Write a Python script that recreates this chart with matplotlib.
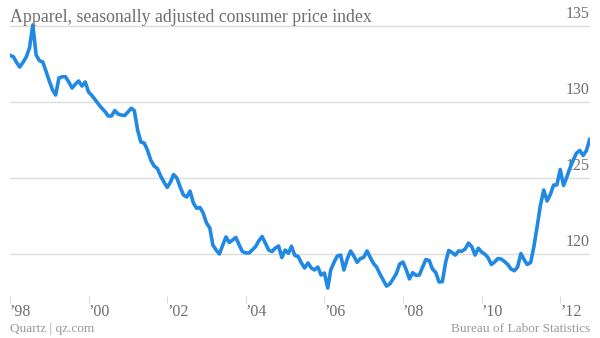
#!/usr/bin/env python3
"""Apparel CPI (seasonally adjusted), Quartz-style line chart."""
import matplotlib
matplotlib.use("Agg")
import matplotlib.pyplot as plt
import matplotlib.transforms as mtransforms
import pandas as pd

# monthly index values, Jan 1998 .. Oct 2012
cpi_1998 = [133.07, 132.98, 132.63, 132.30, 132.60, 132.96, 133.55, 135.07, 133.09, 132.72, 132.64, 132.04]
cpi_1999 = [131.38, 130.79, 130.46, 131.58, 131.66, 131.66, 131.32, 130.92, 131.18, 131.38, 131.05, 131.32]
cpi_2000 = [130.66, 130.43, 130.16, 129.87, 129.61, 129.38, 129.08, 129.08, 129.44, 129.21, 129.14, 129.11]
cpi_2001 = [129.34, 129.59, 129.44, 128.16, 127.37, 127.30, 126.84, 126.18, 125.79, 125.63, 125.13, 124.74]
cpi_2002 = [124.38, 124.74, 125.23, 125.00, 124.41, 123.88, 123.75, 124.14, 123.36, 123.01, 123.06, 122.70]
cpi_2003 = [122.04, 121.71, 120.59, 120.26, 120.00, 120.59, 121.12, 120.76, 120.92, 121.09, 120.59, 120.16]
cpi_2004 = [120.07, 120.07, 120.26, 120.49, 120.86, 121.15, 120.72, 120.26, 120.16, 120.39, 120.53, 119.77]
cpi_2005 = [120.26, 120.05, 120.51, 119.90, 119.84, 119.41, 119.08, 119.41, 119.08, 118.95, 119.14, 118.62]
cpi_2006 = [118.75, 117.76, 118.95, 119.47, 119.87, 119.93, 118.95, 119.67, 120.20, 119.87, 119.45, 119.70]
cpi_2007 = [119.78, 120.20, 119.80, 119.39, 119.14, 118.68, 118.29, 117.89, 118.03, 118.36, 118.72, 119.34]
cpi_2008 = [119.47, 118.95, 118.36, 118.77, 118.59, 118.62, 119.14, 119.64, 119.57, 119.01, 118.78, 118.16]
cpi_2009 = [118.18, 119.47, 120.23, 120.10, 119.93, 120.20, 120.18, 120.33, 120.72, 120.48, 119.93, 120.38]
cpi_2010 = [120.13, 119.98, 119.77, 119.31, 119.47, 119.70, 119.67, 119.51, 119.31, 119.01, 118.90, 119.14]
cpi_2011 = [120.03, 119.61, 119.31, 119.44, 120.46, 121.81, 123.19, 124.21, 123.49, 123.91, 124.54, 124.54]
cpi_2012 = [125.56, 124.51, 125.03, 125.66, 126.18, 126.64, 126.81, 126.48, 126.81, 127.53]

y_ticks = [120, 125, 130, 135]
x_tick_years = [1998, 2000, 2002, 2004, 2006, 2008, 2010, 2012]
x_tick_labels = ["\u201998", "\u201900", "\u201902", "\u201904", "\u201906", "\u201908", "\u201910", "\u201912"]

title = "Apparel, seasonally adjusted consumer price index"
source_left = "Quartz | qz.com"
source_right = "Bureau of Labor Statistics"

LINE = "#2189e3"
GRID = "#dcdcdc"
TEXT = "#6e6e6e"
FOOT = "#9a9a9a"


def main() -> None:
    values = (cpi_1998 + cpi_1999 + cpi_2000 + cpi_2001 + cpi_2002 + cpi_2003 + cpi_2004
              + cpi_2005 + cpi_2006 + cpi_2007 + cpi_2008 + cpi_2009 + cpi_2010 + cpi_2011 + cpi_2012)
    dates = pd.date_range("1998-01-01", periods=len(values), freq="MS")

    plt.rcParams["font.family"] = ["Liberation Serif", "DejaVu Serif"]
    fig = plt.figure(figsize=(6.0, 3.38), dpi=100)
    ax = fig.add_axes([10 / 600, 42 / 338, 580 / 600, 276 / 338])

    for v in y_ticks:
        ax.axhline(v, color=GRID, lw=1.0, zorder=1)
    ax.plot(dates, values, color=LINE, lw=2.6, solid_joinstyle="round", zorder=3)

    ax.set_ylim(117.237, 135.395)
    ax.set_xlim(pd.Timestamp("1998-01-01"), pd.Timestamp("2012-10-04"))

    # value labels sit just above their gridlines at the right edge
    trans = mtransforms.blended_transform_factory(ax.transAxes, ax.transData)
    offset = mtransforms.ScaledTranslation(0, 3 / 72, fig.dpi_scale_trans)
    for v in y_ticks:
        ax.text(1.0, v, str(v), transform=trans + offset, ha="right", va="bottom",
                fontsize=11.5, color=TEXT, zorder=2)

    ax.set_xticks([pd.Timestamp(f"{y}-01-01") for y in x_tick_years])
    ax.set_xticklabels(x_tick_labels, ha="left", fontsize=11.5, color=TEXT)
    ax.tick_params(axis="x", direction="out", length=5, width=0.8, color=GRID, pad=1)
    ax.set_yticks([])
    for s in ax.spines.values():
        s.set_visible(False)
    ax.patch.set_alpha(0)

    fig.text(10 / 600, 1 - 17 / 338, title, ha="left", va="center", fontsize=12.8, color=TEXT)
    fig.text(10 / 600, 1 - 329 / 338, source_left, ha="left", va="center", fontsize=9.5, color=FOOT)
    fig.text(590 / 600, 1 - 329 / 338, source_right, ha="right", va="center", fontsize=9.5, color=FOOT)

    fig.savefig("out.png", dpi=100)
    plt.close(fig)


if __name__ == "__main__":
    main()
